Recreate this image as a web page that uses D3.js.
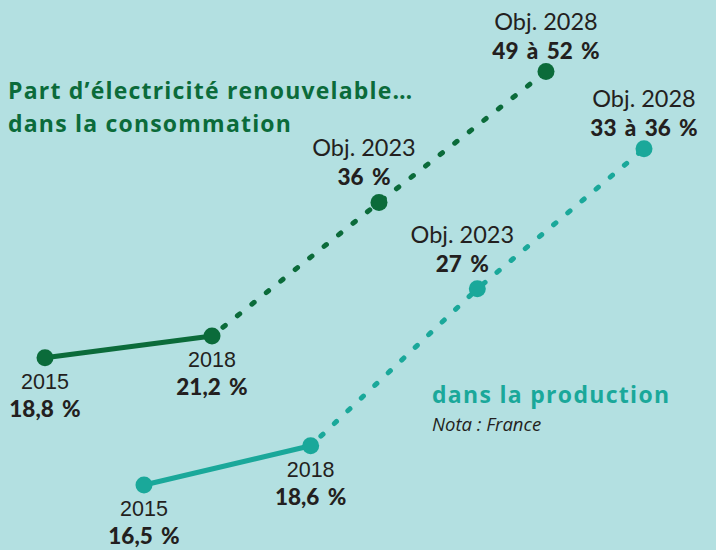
<!DOCTYPE html>
<html>
<head>
<meta charset="utf-8">
<script src="https://cdn.jsdelivr.net/npm/d3@7/dist/d3.min.js"></script>
<style>
  body { margin: 0; background: #b3e0e1; }
  svg { display: block; }
</style>
</head>
<body>
<svg id="chart" width="716" height="550"></svg>
<script>
var years = ["2015", "2018", "2023", "2028"];
var yearLabels = ["2015", "2018", "Obj. 2023", "Obj. 2028"];
var consumption = [18.8, 21.2, 36, 50.5];
var production = [16.5, 18.6, 27, 34.5];
var consumptionLabels = ["18,8 %", "21,2 %", "36 %", "49 à 52 %"];
var productionLabels = ["16,5 %", "18,6 %", "27 %", "33 à 36 %"];

var svg = d3.select("#chart");
var green = "#0b6b3a", teal = "#1aa89a", ink = "#231f20";
var lato = "Lato, 'Open Sans', sans-serif";
var open = "'Open Sans', Lato, sans-serif";
var helv = "'Liberation Sans', Arial, sans-serif";

svg.append("rect").attr("width", 716).attr("height", 550).attr("fill", "#b3e0e1");

var series = [
  { name: "consommation", values: consumption, labels: consumptionLabels, color: green,
    x: d3.scalePoint().domain(years).range([45, 546]),
    y: d3.scaleLinear().domain([15, 55]).range([392, 31]) },
  { name: "production", values: production, labels: productionLabels, color: teal,
    x: d3.scalePoint().domain(years).range([144, 644]),
    y: d3.scaleLinear().domain([15, 40]).range([513, 46]) }
];

series.forEach(function(s) {
  var pts = years.map(function(yr, i) {
    return { year: yr, yearLabel: yearLabels[i], value: s.values[i], label: s.labels[i],
             x: s.x(yr), y: s.y(s.values[i]), i: i };
  });
  var line = d3.line().x(function(d) { return d.x; }).y(function(d) { return d.y; });
  var g = svg.append("g").attr("class", "series-" + s.name);

  // measured part (solid) and objectives (dotted)
  g.append("path").attr("d", line(pts.slice(0, 2)))
    .attr("fill", "none").attr("stroke", s.color).attr("stroke-width", 5);
  g.append("path").attr("d", line(pts.slice(1)))
    .attr("fill", "none").attr("stroke", s.color).attr("stroke-width", 5)
    .attr("stroke-linecap", "round").attr("stroke-dasharray", "3 15.5")
    .attr("stroke-dashoffset", -14);

  g.selectAll("circle").data(pts).enter().append("circle")
    .attr("cx", function(d) { return d.x; })
    .attr("cy", function(d) { return d.y; })
    .attr("r", 8.5).attr("fill", s.color);

  var lab = g.selectAll("g.lab").data(pts).enter().append("g").attr("class", "lab")
    .attr("transform", function(d) {
      var dx = d.i === 2 ? -15 : 0;
      return "translate(" + (d.x + dx) + "," + d.y + ")";
    })
    .attr("text-anchor", "middle").attr("fill", ink);

  lab.append("text")
    .attr("y", function(d) { return d.i < 2 ? 31 : (d.i === 2 ? -46 : -42); })
    .attr("font-family", function(d) { return d.i < 2 ? helv : lato; })
    .attr("font-size", function(d) { return d.i < 2 ? 21.5 : 23.5; })
    .text(function(d) { return d.yearLabel; });

  lab.append("text")
    .attr("y", function(d) { return d.i < 2 ? 59 : (d.i === 2 ? -17 : -13); })
    .attr("font-family", lato).attr("font-weight", 900).attr("font-size", 22.5)
    .attr("word-spacing", 3)
    .text(function(d) { return d.label; });
});

// titles
var title = svg.append("text").attr("x", 8).attr("font-family", open)
  .attr("font-weight", 700).attr("font-size", 23).attr("letter-spacing", 1.2)
  .attr("fill", green);
title.append("tspan").attr("x", 8).attr("y", 99).text("Part d’électricité renouvelable…");
title.append("tspan").attr("x", 8).attr("y", 132).text("dans la consommation");

svg.append("text").attr("x", 432).attr("y", 403).attr("font-family", open)
  .attr("font-weight", 700).attr("font-size", 23).attr("letter-spacing", 1.3)
  .attr("fill", teal)
  .text("dans la production");
svg.append("text").attr("x", 432).attr("y", 431).attr("font-family", open)
  .attr("font-style", "italic").attr("font-size", 18.5)
  .attr("fill", ink)
  .text("Nota : France");
</script>
</body>
</html>
